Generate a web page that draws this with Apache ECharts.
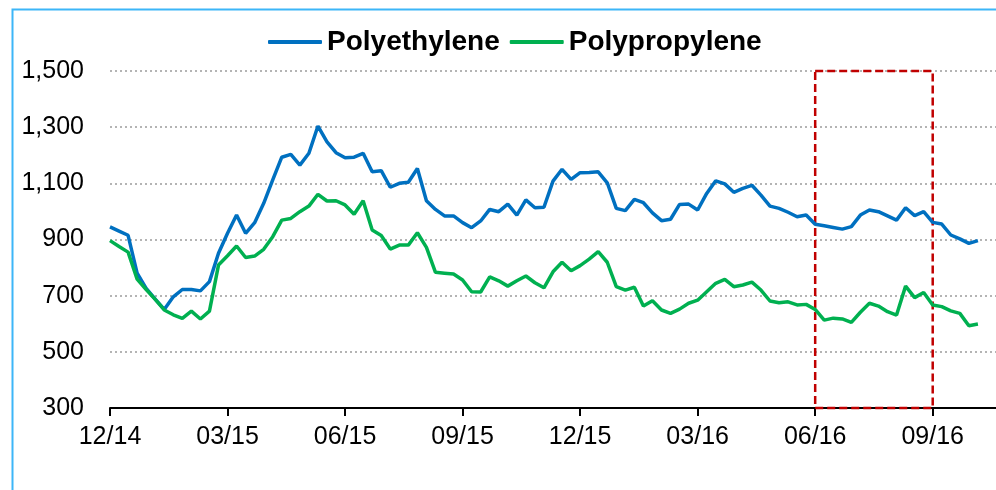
<!DOCTYPE html>
<html>
<head>
<meta charset="utf-8">
<script src="https://cdn.jsdelivr.net/npm/echarts@6/dist/echarts.min.js"></script>
<style>html,body{margin:0;padding:0;background:#fff}#c{width:996px;height:490px}</style>
</head>
<body>
<div id="c"></div>
<script>
var tickLabels = ['12/14','03/15','06/15','09/15','12/15','03/16','06/16','09/16'];
var weeksPerTick = 13;
var categoryCount = 99;
var polyethylene = [945,930,915,780,726,688,651,696,722,722,717,750,851,922,987,922,960,1029,1112,1193,1203,1165,1207,1304,1248,1209,1191,1193,1207,1141,1145,1086,1100,1104,1153,1038,1007,984,984,960,942,966,1007,999,1026,987,1041,1013,1015,1108,1150,1114,1138,1139,1141,1102,1011,1003,1043,1031,995,967,972,1025,1026,1005,1064,1109,1098,1068,1082,1093,1058,1019,1011,997,981,987,954,949,943,937,946,987,1005,999,984,969,1013,985,999,961,955,916,902,886,896];
var polypropylene = [896,875,855,759,722,687,649,632,619,645,617,645,809,842,877,836,841,865,910,969,975,999,1019,1061,1037,1038,1023,990,1038,934,914,866,880,880,924,872,783,780,777,756,714,713,767,753,734,753,770,746,728,785,819,789,807,830,857,819,732,720,730,663,682,649,637,652,673,684,714,744,758,732,738,748,720,681,675,678,667,669,651,613,620,617,605,641,673,663,643,631,734,693,711,667,661,646,637,593,599];
var highlightFrom = '06/16', highlightTo = '09/16';
var yMin = 300, yMax = 1500, yStep = 200;

var categories = [];
for (var i = 0; i < categoryCount; i++) {
  categories.push(i % weeksPerTick === 0 && tickLabels[i / weeksPerTick] ? tickLabels[i / weeksPerTick] : 'w' + i);
}
var font = "'Liberation Sans', Arial, sans-serif";
var chart = echarts.init(document.getElementById('c'), null, {renderer: 'canvas'});
chart.setOption({
  animation: false,
  backgroundColor: '#fff',
  graphic: [{
    type: 'rect', left: 10, top: 7, z: 100,
    shape: {width: 1000, height: 500},
    style: {fill: 'none', stroke: '#3CB6F8', lineWidth: 2}
  }],
  legend: {
    left: 263, top: 23,
    itemWidth: 54, itemHeight: 4, itemGap: 10,
    icon: 'roundRect',
    textStyle: {fontFamily: font, fontSize: 28, fontWeight: 'bold', color: '#000'},
    data: ['Polyethylene', 'Polypropylene']
  },
  grid: {left: 110, right: 0, top: 71, bottom: 82, containLabel: false},
  xAxis: {
    type: 'category', boundaryGap: false, data: categories,
    axisLine: {lineStyle: {color: '#000', width: 2}},
    axisTick: {show: true, interval: weeksPerTick - 1, length: 8, lineStyle: {color: '#000', width: 2}},
    axisLabel: {interval: weeksPerTick - 1, margin: 17, color: '#000', fontSize: 25, fontFamily: font},
    splitLine: {show: false}
  },
  yAxis: {
    type: 'value', min: yMin, max: yMax, interval: yStep,
    axisLine: {show: false}, axisTick: {show: false},
    axisLabel: {margin: 26, color: '#000', fontSize: 25, fontFamily: font,
      formatter: function (v) { return v.toLocaleString('en-US'); }},
    splitLine: {lineStyle: {color: '#B4B4B4', width: 2, type: [2, 3]}}
  },
  series: [{
    name: 'Polyethylene', type: 'line', data: polyethylene, symbol: 'none',
    lineStyle: {color: '#0070C0', width: 3.5}, itemStyle: {color: '#0070C0'},
    markArea: {
      silent: true,
      itemStyle: {color: 'rgba(0,0,0,0)', borderColor: '#C00000', borderWidth: 2.5, borderType: [8, 4]},
      data: [[{xAxis: highlightFrom, yAxis: yMax}, {xAxis: highlightTo, yAxis: yMin}]]
    }
  }, {
    name: 'Polypropylene', type: 'line', data: polypropylene, symbol: 'none',
    lineStyle: {color: '#00B050', width: 3.5}, itemStyle: {color: '#00B050'}
  }]
});
</script>
</body>
</html>
